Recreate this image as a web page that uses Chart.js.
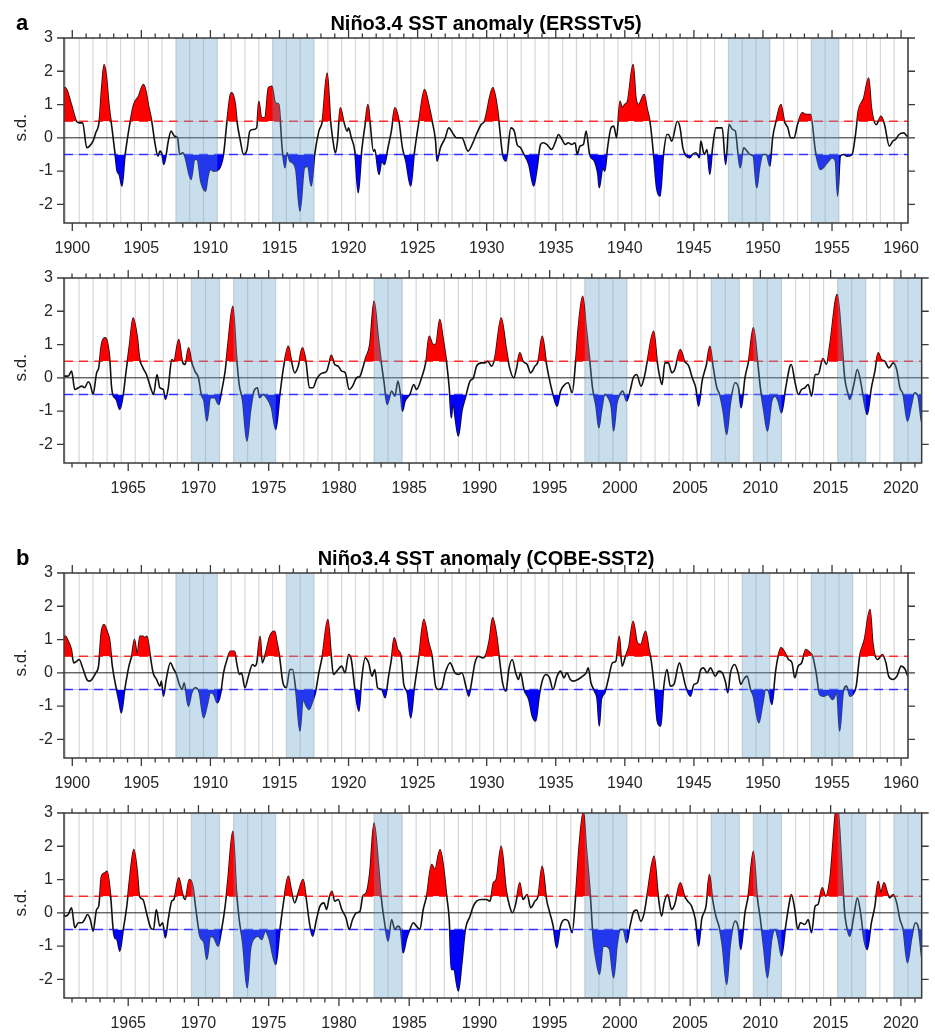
<!DOCTYPE html>
<html>
<head>
<meta charset="utf-8">
<script src="https://cdn.jsdelivr.net/npm/chart.js@4.4.0/dist/chart.umd.min.js"></script>
<style>
body { margin: 0; background: #fff; width: 935px; height: 1035px; position: relative; overflow: hidden; }
.panel { position: absolute; left: 0; width: 935px; height: 260px; }
</style>
</head>
<body>
<div class="panel" style="top:0px"><canvas id="a1" width="935" height="260"></canvas></div>
<div class="panel" style="top:240px"><canvas id="a2" width="935" height="260"></canvas></div>
<div class="panel" style="top:535px"><canvas id="b1" width="935" height="260"></canvas></div>
<div class="panel" style="top:775px"><canvas id="b2" width="935" height="260"></canvas></div>
<script>
// ===== DATA =====
// [year, s.d.]
const ersst = [
  [1899.3,1.5],[1899.5,1.5],[1899.93,1.0],[1900.3,0.5],[1900.5,0.45],[1900.75,0.45],[1901.05,-0.3],[1901.25,-0.25],[1901.5,-0.1],[1901.7,0.15],[1901.95,0.5],
  [1902.15,1.6],[1902.3,2.2],[1902.45,1.9],[1902.65,1.0],[1902.9,0.2],[1903.1,-0.5],[1903.25,-1.0],[1903.4,-1.1],[1903.6,-1.45],[1903.8,-0.6],[1904.0,0.0],
  [1904.2,0.5],[1904.45,1.0],[1904.8,1.25],[1905.15,1.6],[1905.3,1.45],[1905.5,1.0],[1905.75,0.5],[1906.0,-0.2],[1906.2,-0.55],[1906.35,-0.4],[1906.5,-0.5],
  [1906.62,-0.8],[1906.8,-0.5],[1906.95,-0.1],[1907.15,0.2],[1907.4,0.05],[1907.62,0.0],[1907.78,-0.5],[1908.0,-0.45],[1908.15,-0.55],[1908.6,-1.25],[1908.85,-0.65],
  [1909.05,-0.65],[1909.3,-1.3],[1909.65,-1.6],[1909.8,-1.2],[1910.0,-0.95],[1910.25,-1.0],[1910.6,-0.95],[1910.95,-0.5],[1911.2,0.5],[1911.45,1.3],[1911.55,1.35],
  [1911.8,1.0],[1911.92,0.5],[1912.15,-0.05],[1912.4,-0.5],[1912.65,-0.35],[1912.85,0.2],[1913.1,0.25],[1913.35,0.3],[1913.5,1.1],[1913.7,0.6],[1913.95,0.6],
  [1914.2,1.5],[1914.45,1.55],[1914.7,1.05],[1914.95,1.0],[1915.2,-0.35],[1915.4,-0.9],[1915.55,-0.45],[1915.75,-0.7],[1915.95,-0.75],[1916.2,-1.0],[1916.48,-2.2],
  [1916.8,-0.9],[1917.05,-0.85],[1917.3,-1.45],[1917.55,-0.5],[1917.85,0.2],[1918.1,0.5],[1918.45,1.95],[1918.7,0.5],[1918.95,-0.3],[1919.05,-0.45],[1919.2,-0.1],
  [1919.4,0.9],[1919.65,0.5],[1919.9,0.2],[1920.0,0.3],[1920.2,0.0],[1920.45,-0.4],[1920.7,-1.65],[1920.95,-0.4],[1921.2,0.4],[1921.4,1.0],[1921.55,0.5],
  [1921.8,-0.4],[1921.9,-0.35],[1922.2,-1.1],[1922.4,-0.7],[1922.6,-0.8],[1922.85,-0.3],[1923.1,0.2],[1923.35,0.9],[1923.65,0.5],[1923.9,-0.3],[1924.15,-0.7],
  [1924.5,-1.45],[1924.75,-0.5],[1925.1,0.5],[1925.5,1.45],[1925.8,1.0],[1926.05,0.5],[1926.3,-0.1],[1926.4,-0.7],[1926.65,-0.3],[1927.0,0.0],[1927.25,0.3],
  [1927.6,0.1],[1927.8,0.0],[1928.2,0.0],[1928.65,-0.4],[1929.0,-0.15],[1929.25,0.1],[1929.6,0.4],[1929.84,0.5],[1930.45,1.5],[1930.8,0.8],[1931.15,-0.5],
  [1931.4,-0.7],[1931.75,0.3],[1932.0,0.2],[1932.2,-0.2],[1932.45,-0.3],[1932.7,-0.5],[1933.05,-0.8],[1933.4,-1.45],[1933.65,-0.9],[1933.9,-0.2],[1934.1,-0.15],
  [1934.35,-0.2],[1934.7,-0.35],[1934.95,-0.15],[1935.2,0.1],[1935.45,-0.05],[1935.7,-0.2],[1935.9,-0.15],[1936.15,-0.2],[1936.4,-0.15],[1936.55,-0.5],[1936.75,-0.25],
  [1937.0,-0.2],[1937.2,0.2],[1937.45,-0.5],[1937.8,-0.7],[1938.05,-1.1],[1938.15,-1.5],[1938.4,-0.9],[1938.55,-1.0],[1938.75,-0.3],[1939.0,0.3],[1939.2,0.35],
  [1939.4,0.0],[1939.65,1.1],[1939.8,0.9],[1940.0,1.0],[1940.2,1.1],[1940.6,2.2],[1940.8,1.2],[1941.0,1.0],[1941.4,1.3],[1941.6,0.9],[1941.85,0.4],
  [1942.1,-0.6],[1942.3,-1.5],[1942.55,-1.75],[1942.8,-0.5],[1943.05,0.1],[1943.15,0.1],[1943.4,-0.1],[1943.8,0.5],[1944.0,0.3],[1944.2,-0.3],[1944.45,-0.55],
  [1944.7,-0.6],[1944.9,-0.5],[1945.15,-0.45],[1945.4,-0.6],[1945.5,-0.1],[1945.75,-0.5],[1945.95,-0.35],[1946.15,-1.1],[1946.35,-0.3],[1946.6,0.3],[1946.85,0.3],
  [1947.05,0.3],[1947.3,-0.8],[1947.55,0.4],[1947.8,0.25],[1948.0,0.2],[1948.2,-0.5],[1948.35,-0.9],[1948.6,-0.3],[1948.85,-0.4],[1949.05,-0.5],[1949.3,-0.55],
  [1949.55,-1.5],[1949.75,-0.9],[1950.0,-0.5],[1950.25,-0.5],[1950.5,-0.85],[1950.7,0.0],[1950.95,0.5],[1951.3,1.0],[1951.55,0.5],[1951.8,0.3],[1952.0,0.0],
  [1952.25,0.0],[1952.5,0.4],[1952.85,0.75],[1953.1,0.7],[1953.45,0.7],[1953.8,-0.4],[1954.15,-0.95],[1954.65,-0.75],[1955.0,-0.6],[1955.25,-0.7],[1955.4,-1.75],
  [1955.6,-0.55],[1955.85,-0.5],[1956.1,-0.55],[1956.45,-0.5],[1956.7,0.1],[1956.9,0.8],[1957.3,1.2],[1957.65,1.8],[1957.85,0.9],[1958.2,0.4],[1958.55,0.65],
  [1958.8,0.4],[1959.15,-0.25],[1959.4,-0.1],[1959.6,-0.05],[1959.85,0.1],[1960.2,0.15],[1960.45,0.05],[1960.73,0.05],[1960.97,0.2],[1961.2,-0.35],[1961.45,-0.3],
  [1961.7,-0.25],[1961.9,-0.3],[1962.15,-0.12],[1962.3,-0.2],[1962.5,-0.5],[1962.75,0.15],[1962.9,0.3],[1963.1,1.0],[1963.35,1.2],[1963.5,1.1],[1963.7,0.5],
  [1963.8,-0.2],[1963.9,-0.5],[1964.15,-0.65],[1964.4,-0.95],[1964.65,-0.5],[1964.85,0.2],[1965.1,1.0],[1965.35,1.8],[1965.65,1.2],[1965.8,0.6],[1966.05,0.3],
  [1966.3,0.1],[1966.6,-0.3],[1966.8,-0.5],[1967.05,0.1],[1967.25,-0.3],[1967.5,-0.35],[1967.65,-0.65],[1967.85,-0.3],[1968.1,0.55],[1968.25,0.5],[1968.6,1.15],
  [1968.85,0.5],[1969.05,0.4],[1969.3,0.9],[1969.5,0.5],[1969.75,0.2],[1970.0,0.0],[1970.2,-0.5],[1970.4,-0.7],[1970.6,-1.3],[1970.85,-0.6],[1971.15,-0.6],
  [1971.45,-0.8],[1971.65,-0.4],[1971.9,0.2],[1972.1,1.0],[1972.45,2.15],[1972.7,0.7],[1972.9,-0.2],[1973.15,-0.7],[1973.45,-1.9],[1973.7,-1.0],[1973.95,-0.4],
  [1974.2,-0.3],[1974.35,-0.6],[1974.6,-0.5],[1974.85,-0.6],[1975.2,-0.9],[1975.5,-1.55],[1975.8,-0.5],[1976.05,0.3],[1976.4,0.95],[1976.6,0.55],[1976.85,0.15],
  [1977.1,0.35],[1977.4,0.9],[1977.65,0.5],[1977.9,-0.3],[1978.15,-0.3],[1978.4,-0.05],[1978.65,0.1],[1978.9,0.15],[1979.13,0.2],[1979.3,0.45],[1979.45,0.68],
  [1979.7,0.4],[1979.95,0.35],[1980.2,0.2],[1980.45,0.15],[1980.73,-0.35],[1980.97,-0.25],[1981.25,0.0],[1981.5,0.05],[1981.7,0.3],[1981.9,0.6],[1982.2,1.0],
  [1982.5,2.3],[1982.8,1.2],[1983.0,0.5],[1983.2,-0.1],[1983.43,-0.8],[1983.75,-0.4],[1983.98,-0.55],[1984.2,-0.1],[1984.38,-0.5],[1984.52,-1.0],[1984.7,-0.7],
  [1985.05,-0.5],[1985.33,-0.2],[1985.52,-0.35],[1985.88,0.0],[1986.2,0.5],[1986.42,1.25],[1986.7,1.0],[1986.9,1.0],[1987.18,1.75],[1987.4,1.2],[1987.65,0.5],
  [1987.85,-0.3],[1988.0,-1.2],[1988.1,-0.8],[1988.5,-1.75],[1988.75,-1.0],[1989.0,-0.6],[1989.33,-0.1],[1989.57,0.0],[1989.8,0.35],[1990.15,0.45],[1990.4,0.45],
  [1990.6,0.5],[1990.85,0.35],[1991.1,0.6],[1991.55,1.8],[1991.9,0.9],[1992.15,0.3],[1992.45,0.0],[1992.65,0.3],[1992.87,0.75],[1993.1,0.5],[1993.4,0.4],
  [1993.65,0.15],[1993.95,0.35],[1994.18,0.5],[1994.47,1.25],[1994.78,0.4],[1995.01,-0.1],[1995.3,-0.6],[1995.53,-0.85],[1995.77,-0.4],[1996.08,-0.2],[1996.32,-0.15],
  [1996.6,-0.45],[1996.85,0.5],[1997.04,1.5],[1997.35,2.45],[1997.6,1.5],[1997.86,0.5],[1998.05,-0.3],[1998.3,-0.85],[1998.5,-1.5],[1998.68,-1.0],[1998.93,-0.5],
  [1999.17,-0.6],[1999.4,-0.9],[1999.55,-1.6],[1999.77,-0.8],[2000.0,-0.5],[2000.2,-0.4],[2000.48,-0.7],[2000.72,-0.4],[2000.95,0.0],[2001.2,0.1],[2001.5,-0.25],
  [2001.75,0.05],[2001.95,0.5],[2002.4,1.4],[2002.65,0.5],[2002.85,0.0],[2003.0,-0.2],[2003.2,0.45],[2003.45,0.45],[2003.7,0.15],[2003.9,0.25],[2004.3,0.85],
  [2004.6,0.5],[2004.9,0.35],[2005.15,0.0],[2005.4,-0.3],[2005.6,-0.85],[2005.85,-0.1],[2006.16,0.4],[2006.4,0.95],[2006.65,0.3],[2006.9,-0.3],[2007.1,-0.5],
  [2007.35,-1.0],[2007.6,-1.7],[2007.85,-0.8],[2008.2,-0.15],[2008.44,-0.3],[2008.63,-0.9],[2008.9,0.0],[2009.16,0.5],[2009.5,1.5],[2009.8,0.5],[2010.0,-0.3],
  [2010.25,-1.0],[2010.5,-1.6],[2010.8,-0.7],[2011.04,-0.55],[2011.27,-0.7],[2011.5,-1.05],[2011.8,-0.3],[2012.1,0.35],[2012.2,0.4],[2012.45,-0.1],[2012.7,-0.5],
  [2012.93,-0.35],[2013.17,-0.3],[2013.4,-0.2],[2013.64,-0.55],[2013.9,0.1],[2014.1,0.1],[2014.45,0.58],[2014.7,0.4],[2014.95,1.0],[2015.47,2.5],[2015.78,1.2],
  [2016.0,0.0],[2016.25,-0.5],[2016.36,-0.65],[2016.65,-0.2],[2016.9,0.25],[2017.13,-0.1],[2017.37,-0.7],[2017.6,-1.1],[2017.9,-0.3],[2018.15,0.2],[2018.38,0.75],
  [2018.6,0.55],[2018.85,0.5],[2019.15,0.3],[2019.45,0.45],[2019.7,0.25],[2019.93,-0.3],[2020.16,-0.5],[2020.47,-1.3],[2020.75,-0.8],[2020.98,-0.45],[2021.22,-0.55],
  [2021.46,-1.3],[2021.55,-1.4]
]

const cobe = [
  [1899.3,1.1],[1899.5,1.1],[1899.7,0.95],[1899.93,0.7],[1900.1,0.3],[1900.33,0.35],[1900.5,0.4],[1900.75,0.15],[1901.05,-0.2],[1901.25,-0.25],[1901.5,-0.15],
  [1901.7,0.0],[1901.9,0.2],[1902.1,1.2],[1902.3,1.45],[1902.55,1.2],[1902.7,1.0],[1902.9,0.2],[1903.2,-0.5],[1903.4,-0.9],[1903.55,-1.2],[1903.8,-0.5],
  [1904.1,0.2],[1904.3,0.5],[1904.5,1.0],[1904.7,0.55],[1904.9,1.1],[1905.1,1.1],[1905.25,1.05],[1905.4,1.1],[1905.65,0.5],[1905.85,0.0],[1906.1,-0.2],
  [1906.35,-0.4],[1906.45,-0.25],[1906.6,-0.7],[1906.8,-0.2],[1907.1,0.3],[1907.35,0.1],[1907.5,0.0],[1907.75,-0.35],[1907.95,-0.5],[1908.1,-0.3],[1908.4,-1.0],
  [1908.65,-0.6],[1908.9,-0.45],[1909.2,-0.6],[1909.5,-1.35],[1909.75,-1.0],[1910.0,-0.6],[1910.25,-0.65],[1910.5,-0.9],[1910.75,-0.6],[1910.95,0.0],[1911.2,0.4],
  [1911.45,0.65],[1911.75,0.65],[1911.9,0.3],[1912.1,-0.05],[1912.25,0.0],[1912.5,-0.45],[1912.75,-0.1],[1913.05,0.25],[1913.2,0.2],[1913.35,0.3],[1913.6,1.1],
  [1913.75,0.3],[1914.0,0.6],[1914.3,1.1],[1914.65,1.25],[1914.8,0.95],[1915.0,0.5],[1915.25,-0.3],[1915.5,-0.45],[1915.75,0.1],[1915.95,0.1],[1916.2,-0.6],
  [1916.48,-1.75],[1916.7,-0.8],[1916.95,-1.0],[1917.14,-1.1],[1917.4,-0.85],[1917.6,-0.6],[1917.85,0.0],[1918.1,0.5],[1918.5,1.6],[1918.75,0.5],[1918.9,-0.05],
  [1919.15,0.05],[1919.5,0.2],[1919.75,0.0],[1920.0,0.55],[1920.2,0.4],[1920.46,-0.5],[1920.75,-1.15],[1920.95,-0.2],[1921.2,0.45],[1921.45,0.3],[1921.7,-0.1],
  [1921.9,0.1],[1922.1,-0.45],[1922.4,-0.5],[1922.65,-0.75],[1922.9,-0.1],[1923.1,0.4],[1923.3,1.05],[1923.55,0.7],[1923.8,0.5],[1924.0,-0.35],[1924.25,-0.6],
  [1924.5,-1.35],[1924.75,-0.5],[1925.1,0.5],[1925.45,1.6],[1925.8,0.9],[1926.05,0.5],[1926.3,-0.4],[1926.5,-0.5],[1926.75,-0.45],[1927.0,0.0],[1927.35,0.3],
  [1927.7,0.0],[1927.95,-0.05],[1928.2,0.0],[1928.55,-0.5],[1928.7,-0.7],[1928.9,-0.3],[1929.15,0.3],[1929.4,0.5],[1929.72,0.45],[1929.9,0.5],[1930.2,1.0],
  [1930.43,1.65],[1930.72,1.1],[1930.9,0.5],[1931.15,-0.3],[1931.4,-0.55],[1931.6,0.1],[1931.85,0.4],[1932.1,0.0],[1932.3,-0.2],[1932.45,0.0],[1932.7,-0.5],
  [1933.05,-0.8],[1933.3,-1.3],[1933.55,-1.45],[1933.8,-0.7],[1934.05,-0.2],[1934.3,-0.05],[1934.55,-0.15],[1934.8,-0.5],[1935.1,-0.1],[1935.35,0.05],[1935.6,-0.15],
  [1935.8,0.0],[1936.05,-0.2],[1936.3,-0.25],[1936.6,-0.2],[1936.95,-0.1],[1937.2,0.0],[1937.35,0.15],[1937.55,-0.3],[1937.8,-0.55],[1938.0,-0.8],[1938.15,-1.6],
  [1938.3,-0.8],[1938.55,-0.6],[1938.8,-0.2],[1939.1,0.3],[1939.35,0.35],[1939.6,1.1],[1939.8,0.2],[1940.05,0.5],[1940.3,0.8],[1940.6,1.55],[1940.9,0.9],
  [1941.15,0.85],[1941.5,1.25],[1941.75,0.7],[1941.9,0.4],[1942.15,-0.5],[1942.35,-1.45],[1942.6,-1.6],[1942.8,-0.5],[1943.05,0.1],[1943.3,-0.4],[1943.55,-0.35],
  [1943.95,0.3],[1944.15,0.05],[1944.4,-0.4],[1944.75,-0.7],[1945.0,-0.35],[1945.25,-0.3],[1945.5,0.1],[1945.7,0.15],[1945.95,0.0],[1946.2,0.15],[1946.55,-0.1],
  [1946.8,0.05],[1947.05,0.0],[1947.3,-0.3],[1947.45,-0.6],[1947.65,0.0],[1947.95,0.25],[1948.2,0.0],[1948.4,-0.35],[1948.6,-0.2],[1948.85,-0.1],[1949.1,-0.5],
  [1949.3,-0.7],[1949.7,-1.5],[1949.95,-1.0],[1950.2,-0.5],[1950.4,-0.55],[1950.65,-0.95],[1950.9,0.0],[1951.1,0.5],[1951.3,0.75],[1951.6,0.6],[1951.85,0.4],
  [1952.1,0.3],[1952.3,-0.15],[1952.55,0.2],[1952.8,0.3],[1953.1,0.7],[1953.4,0.6],[1953.6,0.5],[1953.85,0.0],[1954.1,-0.65],[1954.4,-0.7],[1954.7,-0.65],
  [1955.05,-0.8],[1955.35,-0.6],[1955.55,-1.75],[1955.8,-0.6],[1956.05,-0.4],[1956.3,-0.7],[1956.5,-0.65],[1956.75,-0.4],[1957.0,0.5],[1957.35,1.0],[1957.75,1.9],
  [1957.95,0.9],[1958.3,0.4],[1958.65,0.55],[1958.9,0.3],[1959.1,-0.1],[1959.4,-0.2],[1959.7,-0.1],[1960.0,0.2],[1960.3,0.1],[1960.5,-0.1],[1960.73,-0.05],
  [1960.97,0.15],[1961.2,-0.45],[1961.45,-0.3],[1961.7,-0.3],[1961.9,-0.2],[1962.1,-0.05],[1962.3,-0.2],[1962.5,-0.55],[1962.75,0.1],[1962.9,0.2],[1963.1,1.1],
  [1963.35,1.2],[1963.5,1.25],[1963.75,0.5],[1963.93,-0.5],[1964.05,-0.75],[1964.2,-0.8],[1964.4,-1.15],[1964.65,-0.5],[1964.9,0.2],[1965.1,1.0],[1965.4,1.9],
  [1965.65,1.2],[1965.8,0.5],[1966.05,0.4],[1966.3,0.0],[1966.6,-0.45],[1966.8,-0.5],[1967.0,0.1],[1967.25,-0.4],[1967.45,-0.3],[1967.65,-0.75],[1967.85,-0.2],
  [1968.1,0.35],[1968.25,0.4],[1968.6,1.05],[1968.85,0.6],[1969.05,0.4],[1969.35,1.0],[1969.6,0.8],[1969.85,0.0],[1970.1,-0.7],[1970.4,-0.9],[1970.6,-1.4],
  [1970.85,-0.7],[1971.1,-0.75],[1971.4,-1.0],[1971.65,-0.5],[1971.9,0.2],[1972.1,1.0],[1972.45,2.45],[1972.7,0.7],[1972.9,-0.2],[1973.15,-0.9],[1973.47,-2.25],
  [1973.7,-1.1],[1974.0,-0.75],[1974.25,-0.7],[1974.5,-0.8],[1974.75,-0.55],[1975.05,-0.8],[1975.3,-1.3],[1975.5,-1.55],[1975.8,-0.5],[1976.05,0.3],[1976.4,1.1],
  [1976.6,0.7],[1976.85,0.3],[1977.1,0.6],[1977.45,1.0],[1977.65,0.5],[1977.9,-0.3],[1978.12,-0.7],[1978.4,-0.2],[1978.65,0.2],[1978.93,0.3],[1979.13,0.1],
  [1979.3,0.45],[1979.5,0.65],[1979.7,0.35],[1979.95,0.4],[1980.2,0.1],[1980.5,-0.15],[1980.73,-0.5],[1980.97,-0.2],[1981.25,0.0],[1981.5,0.05],[1981.7,0.5],
  [1981.95,0.6],[1982.2,1.2],[1982.5,2.7],[1982.8,1.5],[1983.0,0.5],[1983.25,-0.3],[1983.5,-0.85],[1983.75,-0.2],[1983.98,-0.5],[1984.2,-0.4],[1984.38,-0.5],
  [1984.57,-1.2],[1984.8,-0.8],[1985.05,-0.5],[1985.3,-0.3],[1985.52,-0.4],[1985.76,-0.5],[1986.0,0.1],[1986.24,0.5],[1986.6,1.45],[1986.83,1.3],[1987.2,1.9],
  [1987.43,1.4],[1987.67,0.5],[1987.85,-0.2],[1988.0,-1.7],[1988.17,-1.7],[1988.5,-2.35],[1988.75,-1.5],[1989.0,-0.5],[1989.33,-0.1],[1989.57,0.2],[1989.8,0.35],
  [1990.15,0.4],[1990.5,0.4],[1990.75,0.35],[1991.0,0.9],[1991.2,1.0],[1991.55,2.0],[1991.9,0.7],[1992.15,0.2],[1992.35,0.0],[1992.6,0.3],[1992.87,0.9],
  [1993.1,0.4],[1993.4,0.55],[1993.65,0.15],[1993.95,0.35],[1994.18,0.5],[1994.47,1.4],[1994.78,0.4],[1995.01,0.0],[1995.25,-0.4],[1995.5,-1.05],[1995.77,-0.4],
  [1996.08,-0.2],[1996.32,-0.25],[1996.6,-0.6],[1996.85,0.5],[1997.1,2.0],[1997.4,3.05],[1997.6,2.0],[1997.9,0.5],[1998.1,-0.8],[1998.3,-1.4],[1998.55,-1.85],
  [1998.8,-1.0],[1999.0,-1.0],[1999.27,-1.1],[1999.55,-1.95],[1999.8,-0.95],[2000.05,-0.5],[2000.24,-0.5],[2000.48,-0.9],[2000.72,-0.4],[2001.0,0.05],[2001.2,0.08],
  [2001.48,-0.25],[2001.73,0.0],[2001.96,0.6],[2002.43,1.7],[2002.73,0.5],[2002.97,-0.1],[2003.15,0.3],[2003.4,0.55],[2003.68,0.1],[2003.9,0.25],[2004.3,0.9],
  [2004.6,0.5],[2004.83,0.35],[2005.1,0.2],[2005.37,-0.2],[2005.6,-1.0],[2005.82,-0.2],[2006.13,0.2],[2006.37,1.15],[2006.6,0.4],[2006.83,-0.1],[2007.08,-0.45],
  [2007.3,-1.0],[2007.6,-2.15],[2007.84,-1.0],[2008.2,-0.25],[2008.4,-0.4],[2008.6,-1.1],[2008.9,0.0],[2009.13,0.5],[2009.5,1.85],[2009.77,0.5],[2010.0,-0.2],
  [2010.25,-1.1],[2010.5,-1.95],[2010.8,-0.8],[2011.04,-0.5],[2011.27,-0.8],[2011.5,-1.3],[2011.8,-0.4],[2012.1,0.4],[2012.2,0.55],[2012.45,0.1],[2012.65,-0.5],
  [2012.85,-0.3],[2013.17,-0.35],[2013.4,-0.2],[2013.64,-0.6],[2013.9,0.2],[2014.1,0.25],[2014.4,0.75],[2014.64,0.5],[2014.95,1.0],[2015.47,3.3],[2015.78,1.5],
  [2016.0,0.0],[2016.25,-0.6],[2016.36,-0.7],[2016.65,-0.1],[2016.9,0.45],[2017.13,0.0],[2017.37,-0.8],[2017.6,-1.1],[2017.9,-0.3],[2018.15,0.2],[2018.38,0.95],
  [2018.57,0.6],[2018.8,0.9],[2019.04,0.6],[2019.2,0.45],[2019.45,0.55],[2019.7,0.3],[2019.93,-0.2],[2020.16,-0.5],[2020.47,-1.5],[2020.75,-0.8],[2021.03,-0.3],
  [2021.22,-0.4],[2021.5,-1.4],[2021.55,-1.5]
]

// shaded periods [start, end]
const ersstBandsEarly = [[1907.5,1910.5],[1914.5,1917.5],[1947.5,1950.5],[1953.5,1955.5]]
const cobeBandsEarly = [[1907.5,1910.5],[1915.5,1917.5],[1948.5,1950.5],[1953.5,1956.5]]
const bandsLate = [[1969.5,1971.5],[1972.5,1975.5],[1982.5,1984.5],[1997.5,2000.5],[2006.5,2008.5],[2009.5,2011.5],[2015.5,2017.5],[2019.5,2021.5]]

const rangeEarly = [1899.4, 1960.5]
const rangeLate = [1960.43, 2021.48]
const yTicks = [-2, -1, 0, 1, 2, 3]
const umbral = 0.5

Chart.defaults.font.family = "'Liberation Sans', Arial, sans-serif"
Chart.defaults.font.size = 16
Chart.defaults.color = "#262626"

function crearPanel(id, serie, rango, bandas, letra, titulo) {
    const puntos = serie.map(p => ({ x: p[0], y: p[1] }))

    const decor = {
        id: "decor",
        beforeDatasetsDraw(chart) {
            const { ctx, chartArea: a, scales: { x, y } } = chart
            ctx.save()
            ctx.beginPath()
            ctx.rect(a.left, a.top, a.width, a.height)
            ctx.clip()
            // líneas de cada año
            ctx.strokeStyle = "rgba(150,150,150,0.38)"
            ctx.lineWidth = 1.2
            for (let yr = Math.floor(rango[0]) - 1; yr <= Math.ceil(rango[1]); yr++) {
                const px = x.getPixelForValue(yr + 0.5)
                ctx.beginPath(); ctx.moveTo(px, a.top); ctx.lineTo(px, a.bottom); ctx.stroke()
            }
            // cero
            ctx.strokeStyle = "#222"
            ctx.lineWidth = 1
            const y0 = y.getPixelForValue(0)
            ctx.beginPath(); ctx.moveTo(a.left, y0); ctx.lineTo(a.right, y0); ctx.stroke()
            // umbrales
            ctx.setLineDash([9, 6])
            ctx.lineWidth = 1.5
            ctx.strokeStyle = "rgba(255,30,30,0.9)"
            const yr1 = y.getPixelForValue(umbral)
            ctx.beginPath(); ctx.moveTo(a.left, yr1); ctx.lineTo(a.right, yr1); ctx.stroke()
            ctx.strokeStyle = "rgba(30,30,255,0.85)"
            const yr2 = y.getPixelForValue(-umbral)
            ctx.beginPath(); ctx.moveTo(a.left, yr2); ctx.lineTo(a.right, yr2); ctx.stroke()
            ctx.restore()
        },
        afterDatasetsDraw(chart) {
            const { ctx, chartArea: a, scales: { x, y } } = chart
            ctx.save()
            ctx.beginPath()
            ctx.rect(a.left, a.top, a.width, a.height)
            ctx.clip()
            ctx.fillStyle = "rgba(100,160,200,0.35)"
            bandas.forEach(b => {
                const x0 = x.getPixelForValue(b[0])
                const x1 = x.getPixelForValue(b[1])
                ctx.fillRect(x0, a.top, x1 - x0, a.height)
            })
            ctx.restore()

            // marco y marcas
            ctx.save()
            ctx.strokeStyle = "#3a3a3a"
            ctx.lineWidth = 1.5
            ctx.strokeRect(a.left, a.top, a.width, a.height)
            ctx.lineWidth = 1.3
            ctx.beginPath()
            for (let yr = Math.ceil(rango[0]); yr <= Math.floor(rango[1]); yr++) {
                const px = x.getPixelForValue(yr)
                const largo = yr % 5 === 0 ? 8 : 4.5
                ctx.moveTo(px, a.bottom); ctx.lineTo(px, a.bottom + largo)
                ctx.moveTo(px, a.top); ctx.lineTo(px, a.top - largo)
            }
            yTicks.forEach(v => {
                const py = y.getPixelForValue(v)
                ctx.moveTo(a.left - 7, py); ctx.lineTo(a.left, py)
                ctx.moveTo(a.right, py); ctx.lineTo(a.right + 7, py)
            })
            ctx.stroke()

            // textos
            ctx.fillStyle = "#262626"
            ctx.font = "17px 'Liberation Sans', Arial, sans-serif"
            ctx.textAlign = "center"
            ctx.textBaseline = "middle"
            ctx.translate(21, y.getPixelForValue(0.3))
            ctx.rotate(-Math.PI / 2)
            ctx.fillText("s.d.", 0, 0)
            ctx.restore()

            if (titulo) {
                ctx.save()
                ctx.fillStyle = "#000"
                ctx.textBaseline = "alphabetic"
                ctx.font = "bold 22px 'Liberation Sans', Arial, sans-serif"
                ctx.textAlign = "left"
                ctx.fillText(letra, 16, 30)
                ctx.font = "bold 20px 'Liberation Sans', Arial, sans-serif"
                ctx.textAlign = "center"
                ctx.fillText(titulo, (a.left + a.right) / 2, 30)
                ctx.restore()
            }
        }
    }

    const linea = { parsing: true, pointRadius: 0, cubicInterpolationMode: "monotone", clip: 0 }

    return new Chart(document.getElementById(id), {
        type: "line",
        data: {
            datasets: [
                Object.assign({
                    data: puntos, borderColor: "rgba(0,0,0,0)", borderWidth: 0,
                    fill: { target: { value: umbral }, above: "#ff0000", below: "rgba(0,0,0,0)" }
                }, linea),
                Object.assign({
                    data: puntos, borderColor: "rgba(0,0,0,0)", borderWidth: 0,
                    fill: { target: { value: -umbral }, above: "rgba(0,0,0,0)", below: "#0000ff" }
                }, linea),
                Object.assign({
                    data: puntos, borderColor: "#111", borderWidth: 1.6, fill: false
                }, linea)
            ]
        },
        options: {
            responsive: false,
            animation: false,
            events: [],
            layout: { padding: { top: 38, right: 13, bottom: 0, left: 0 } },
            plugins: { legend: { display: false }, tooltip: { enabled: false } },
            scales: {
                x: {
                    type: "linear",
                    min: rango[0],
                    max: rango[1],
                    afterFit: s => { s.height = 37 },
                    grid: { display: false, drawTicks: false, tickLength: 0 },
                    border: { display: false },
                    ticks: {
                        stepSize: 5,
                        includeBounds: false,
                        autoSkip: false,
                        maxRotation: 0,
                        maxTicksLimit: 100,
                        padding: 16,
                        callback: v => Math.abs(v - Math.round(v)) < 1e-6 && Math.round(v) % 5 === 0 ? String(Math.round(v)) : ""
                    }
                },
                y: {
                    min: -2.56,
                    max: 3,
                    afterFit: s => { s.width = 64 },
                    grid: { display: false, drawTicks: false, tickLength: 0 },
                    border: { display: false },
                    ticks: {
                        stepSize: 1,
                        includeBounds: false,
                        padding: 11,
                        callback: v => yTicks.includes(v) ? String(v) : ""
                    }
                }
            }
        },
        plugins: [decor]
    })
}

crearPanel("a1", ersst, rangeEarly, ersstBandsEarly, "a", "Niño3.4 SST anomaly (ERSSTv5)")
crearPanel("a2", ersst, rangeLate, bandsLate, null, null)
crearPanel("b1", cobe, rangeEarly, cobeBandsEarly, "b", "Niño3.4 SST anomaly (COBE-SST2)")
crearPanel("b2", cobe, rangeLate, bandsLate, null, null)
</script>
</body>
</html>
